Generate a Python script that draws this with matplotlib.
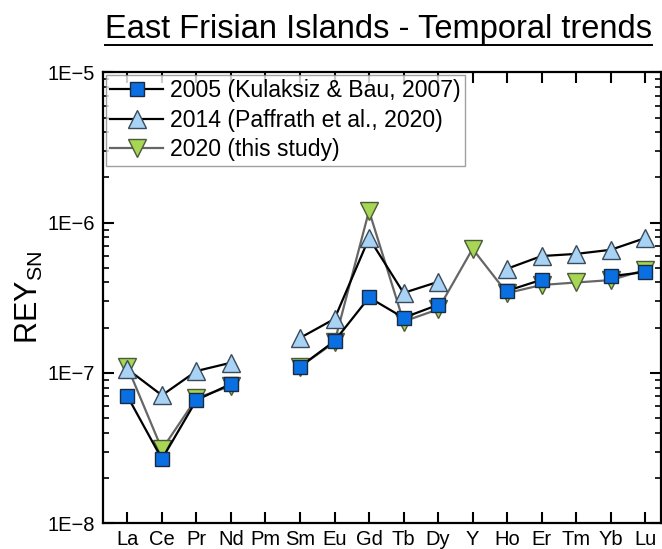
import numpy as np
import matplotlib
matplotlib.use('Agg')
import matplotlib.pyplot as plt
import matplotlib.ticker as mticker
from matplotlib.lines import Line2D

plt.rcParams['font.family'] = ['Liberation Sans', 'DejaVu Sans']

elements = ['La', 'Ce', 'Pr', 'Nd', 'Pm', 'Sm', 'Eu', 'Gd', 'Tb', 'Dy',
            'Y', 'Ho', 'Er', 'Tm', 'Yb', 'Lu']

nan = np.nan
# shale-normalised REY, missing values left as gaps
rey_2005 = [7.0e-8, 2.67e-8, 6.6e-8, 8.45e-8, nan, 1.10e-7, 1.63e-7, 3.18e-7,
            2.33e-7, 2.84e-7, nan, 3.52e-7, 4.17e-7, nan, 4.40e-7, 4.70e-7]
rey_2014 = [1.06e-7, 7.1e-8, 1.03e-7, 1.17e-7, nan, 1.71e-7, 2.29e-7, 7.9e-7,
            3.41e-7, 4.04e-7, nan, 4.94e-7, 6.0e-7, 6.2e-7, 6.6e-7, 7.9e-7]
rey_2020 = [1.10e-7, 3.1e-8, 6.8e-8, 8.2e-8, nan, 1.10e-7, 1.60e-7, 1.20e-6,
            2.20e-7, 2.65e-7, 6.7e-7, 3.40e-7, 3.85e-7, 4.0e-7, 4.15e-7, 4.85e-7]

labels = ['2005 (Kulaksiz & Bau, 2007)', '2014 (Paffrath et al., 2020)',
          '2020 (this study)']

x = np.arange(len(elements))

fig = plt.figure(figsize=(6.62, 5.49), dpi=100)
ax = fig.add_axes([0.156, 0.047, 0.842, 0.821])

ax.plot(x, rey_2005, color='black', lw=1.6, marker='s', ms=10,
        mfc='#0a6fe0', mec='#1a2a40', mew=1.0, label=labels[0], zorder=4)
ax.plot(x, rey_2014, color='black', lw=1.6, marker='^', ms=12.5,
        mfc='#a9d3f5', mec='#3a4a5a', mew=1.0, label=labels[1], zorder=3)
ax.plot(x, rey_2020, color='#666666', lw=1.6, marker='v', ms=12.5,
        mfc='#a6d654', mec='#4a5a3a', mew=1.0, label=labels[2], zorder=2)

ax.set_yscale('log')
ax.set_ylim(1e-8, 1e-5)
ax.set_xlim(-0.7, 15.45)
ax.set_xticks(x)
ax.set_xticklabels(elements)

def sci_fmt(v, pos):
    e = int(round(np.log10(v)))
    return '1E\u2212%d' % abs(e)

ax.yaxis.set_major_locator(mticker.LogLocator(base=10, numticks=10))
ax.yaxis.set_major_formatter(mticker.FuncFormatter(sci_fmt))
ax.yaxis.set_minor_locator(mticker.LogLocator(base=10, subs=np.arange(2, 10), numticks=20))
ax.yaxis.set_minor_formatter(mticker.NullFormatter())

ax.tick_params(axis='both', which='major', direction='in', length=8, width=1.5,
               labelsize=14.5, top=True, right=True)
ax.tick_params(axis='y', which='minor', direction='in', length=4, width=1.2,
               right=True)
ax.tick_params(axis='x', pad=5)
ax.tick_params(axis='y', pad=6)
for s in ax.spines.values():
    s.set_linewidth(1.6)

ax.set_ylabel('REY$_{\\mathregular{SN}}$', fontsize=22)
ax.yaxis.set_label_coords(-0.105, 0.5)

leg = ax.legend(loc='upper left', fontsize=16.6, frameon=True, fancybox=False,
                edgecolor='#888888', borderaxespad=0.1, handlelength=2.3,
                handletextpad=0.3, borderpad=0.2, labelspacing=0.28)
leg.get_frame().set_linewidth(1.0)

# title with a drawn underline
title = fig.text(0.571, 0.93, 'East Frisian Islands - Temporal trends',
                 ha='center', va='baseline', fontsize=23.5)
fig.canvas.draw()
bb = title.get_window_extent().transformed(fig.transFigure.inverted())
uy = 0.93 - 0.012
fig.add_artist(Line2D([bb.x0, bb.x1], [uy, uy], color='black', lw=1.4,
                      transform=fig.transFigure))

fig.savefig('out.png', dpi=100)
